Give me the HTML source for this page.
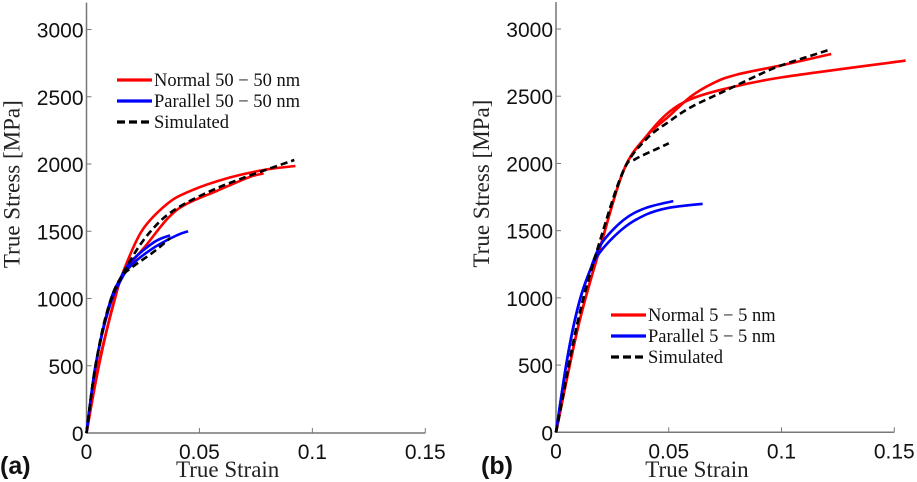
<!DOCTYPE html>
<html><head><meta charset="utf-8"><style>
html,body{margin:0;padding:0;background:#fff;width:917px;height:482px;overflow:hidden}
svg text{font-family:"Liberation Sans",sans-serif}
.tk{font-size:21px;fill:#111}
.ttl{font-family:"Liberation Serif",serif!important;font-size:23px;fill:#222}
.lg{font-family:"Liberation Serif",serif!important;font-size:18.5px;fill:#111}
</style></head><body>
<svg id="chart" width="917" height="482"></svg>
<script>
const xTicks=[0,0.05,0.1,0.15];
const xTickLabels=["0","0.05","0.1","0.15"];
const yTicks=[0,500,1000,1500,2000,2500,3000];
const yTickLabels=["0","500","1000","1500","2000","2500","3000"];
// panel a
const aNormal1=[[0,0],[0.0052,500],[0.0126,1000],[0.0163,1200],[0.0244,1500],[0.0355,1700],[0.046,1800],[0.0636,1900],[0.08,1960],[0.0925,1985]];
const aNormal2=[[0,0],[0.0055,500],[0.0125,1000],[0.017,1200],[0.0266,1400],[0.0362,1600],[0.044,1700],[0.0577,1800],[0.0717,1900],[0.0784,1930]];
const aSim1=[[0,0],[0.004,500],[0.01,950],[0.02,1300],[0.03,1530],[0.04,1670],[0.055,1800],[0.07,1900],[0.092,2030]];
const aSim2=[[0,0],[0.004,500],[0.01,950],[0.015,1150],[0.02,1230],[0.03,1350],[0.037,1450]];
const aPar1=[[0,0],[0.004,500],[0.01,950],[0.015,1150],[0.02,1280],[0.03,1420],[0.037,1470]];
const aPar2=[[0,0],[0.004,500],[0.01,930],[0.015,1130],[0.02,1250],[0.03,1380],[0.04,1470],[0.045,1500]];
// panel b
const bNormal1=[[0,0],[0.01,800],[0.02,1400],[0.03,1950],[0.04,2200],[0.05,2350],[0.06,2500],[0.07,2600],[0.08,2660],[0.1,2730],[0.122,2814]];
const bNormal2=[[0,0],[0.01,800],[0.02,1400],[0.03,1950],[0.04,2200],[0.05,2380],[0.06,2480],[0.075,2555],[0.1,2640],[0.155,2765]];
const bSim1=[[0,0],[0.01,850],[0.02,1450],[0.03,1950],[0.04,2180],[0.05,2310],[0.06,2420],[0.075,2540],[0.09,2660],[0.1,2730],[0.122,2850]];
const bSim2=[[0,0],[0.01,850],[0.02,1450],[0.03,1950],[0.035,2030],[0.045,2110],[0.05,2150]];
const bPar1=[[0,0],[0.005,550],[0.01,950],[0.015,1200],[0.02,1400],[0.03,1580],[0.04,1670],[0.052,1720]];
const bPar2=[[0,0],[0.005,550],[0.01,950],[0.015,1200],[0.02,1350],[0.03,1520],[0.04,1620],[0.05,1670],[0.065,1700]];

const NS="http://www.w3.org/2000/svg";
const svg=document.getElementById('chart');
function mk(t,a,p){const e=document.createElementNS(NS,t);for(const k in a)e.setAttribute(k,a[k]);(p||svg).appendChild(e);return e;}
function smooth(pts){
  let d='M'+pts[0][0].toFixed(1)+','+pts[0][1].toFixed(1);
  for(let i=0;i<pts.length-1;i++){
    const p0=pts[Math.max(0,i-1)],p1=pts[i],p2=pts[i+1],p3=pts[Math.min(pts.length-1,i+2)];
    const c1=[p1[0]+(p2[0]-p0[0])/6,p1[1]+(p2[1]-p0[1])/6];
    const c2=[p2[0]-(p3[0]-p1[0])/6,p2[1]-(p3[1]-p1[1])/6];
    d+=`C${c1[0].toFixed(1)},${c1[1].toFixed(1)} ${c2[0].toFixed(1)},${c2[1].toFixed(1)} ${p2[0].toFixed(1)},${p2[1].toFixed(1)}`;
  }
  return d;
}

function panel(id,x0,xmax,y0,y3000,tag,series,legX,legY,legTexts){
  const g=mk('g',{});
  
  
  const sx=v=>x0+(xmax-x0)*v/0.15;
  const sy=v=>y0-(y0-y3000)*v/3000;
  const ax=mk('path',{d:`M${x0},${sy(3200)}V${y0}H${sx(0.15)}`,fill:'none',stroke:'#777','stroke-width':1.5},g);
  
  
  xTicks.forEach((v,i)=>{
    mk('line',{x1:sx(v),x2:sx(v),y1:y0,y2:y0-5,stroke:'#777'},g);
    const t=mk('text',{x:sx(v),y:y0+26,'text-anchor':'middle',class:'tk'},g);
    t.textContent=xTickLabels[i];
    
    
  });
  yTicks.forEach((v,i)=>{
    mk('line',{x1:x0,x2:x0+5,y1:sy(v),y2:sy(v),stroke:'#777'},g);
    const t=mk('text',{x:x0-3,y:sy(v)+8,'text-anchor':'end',class:'tk'},g);
    t.textContent=yTickLabels[i];
    
    
  });
  const xt=mk('text',{x:sx(0.0625),y:477,'text-anchor':'middle',class:'ttl'},g);
  xt.textContent='True Strain';
  
  
  const yx=x0-67;
  const yt=mk('text',{x:yx,y:sy(1850),'text-anchor':'middle',class:'ttl',transform:`rotate(-90 ${yx} ${sy(1850)})`},g);
  yt.textContent='True Stress [MPa]';
  
  
  const tg=mk('text',{x:tag[0],y:tag[1],style:'font-size:25px;font-weight:bold',fill:'#111'},g);
  tg.textContent=tag[2];
  
  
  series.forEach(s=>{
    const d=smooth(s.data.map(p=>[sx(p[0]),sy(p[1])]));
    const a={d:d,fill:'none',stroke:s.c,'stroke-width':2.6,'stroke-linejoin':'round'};
    if(s.dash)a['stroke-dasharray']='7,4';
    const p=mk('path',a,g);
    
    
  });
  const cols=['#f00','#00f','#000'];
  legTexts.forEach((tx,i)=>{
    const yy=legY+[0,21,42][i];
    const a={x1:legX,x2:legX+35,y1:yy,y2:yy,stroke:cols[i],'stroke-width':3.2};
    if(i==2)a['stroke-dasharray']='8,4';
    const l=mk('line',a,g);
    
    
    const t=mk('text',{x:legX+37,y:yy+6,class:'lg'},g);
    t.textContent=tx;
    
    
  });
}
panel('a',86.5,425.3,433,29.5,[0,474,'(a)'],[
 {data:aNormal1,c:'#f00',n:'normal-50-curve-1'},{data:aNormal2,c:'#f00',n:'normal-50-curve-2'},
 {data:aPar1,c:'#00f',n:'parallel-50-curve-1'},{data:aPar2,c:'#00f',n:'parallel-50-curve-2'},
 {data:aSim1,c:'#000',dash:1,n:'simulated-50-curve-1'},{data:aSim2,c:'#000',dash:1,n:'simulated-50-curve-2'}],
 117,80,['Normal 50 \u2212 50 nm','Parallel 50 \u2212 50 nm','Simulated']);
panel('b',556,894.3,432.3,29,[481,474,'(b)'],[
 {data:bNormal1,c:'#f00',n:'normal-5-curve-1'},{data:bNormal2,c:'#f00',n:'normal-5-curve-2'},
 {data:bPar1,c:'#00f',n:'parallel-5-curve-1'},{data:bPar2,c:'#00f',n:'parallel-5-curve-2'},
 {data:bSim1,c:'#000',dash:1,n:'simulated-5-curve-1'},{data:bSim2,c:'#000',dash:1,n:'simulated-5-curve-2'}],
 611,315,['Normal 5 \u2212 5 nm','Parallel 5 \u2212 5 nm','Simulated']);
</script>
</body></html>
